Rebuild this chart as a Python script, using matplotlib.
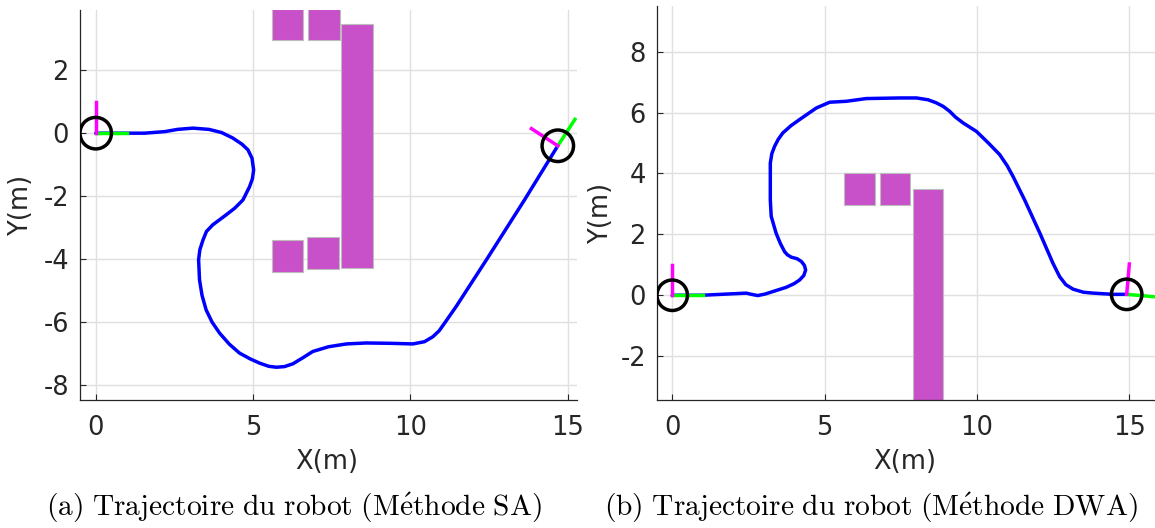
import numpy as np
import matplotlib
matplotlib.use('Agg')
import matplotlib.pyplot as plt
from matplotlib.patches import Rectangle, Circle

plt.rcParams['axes.unicode_minus'] = False
plt.rcParams['mathtext.fontset'] = 'cm'

# ---- SA trajectory (left) ----
saX = [0.0, 0.97, 1.55, 2.2, 2.6, 3.09, 3.6, 4.0, 4.35, 4.65, 4.84, 4.97, 5.02, 4.98, 4.89, 4.68, 4.42,
       4.15, 3.72, 3.52, 3.41, 3.31, 3.27, 3.30, 3.38, 3.51, 3.70, 3.94, 4.25, 4.57, 4.90, 5.21, 5.50,
       5.74, 6.00, 6.27, 6.60, 6.90, 7.40, 7.97, 8.60, 9.34, 10.08, 10.45, 10.72, 10.92, 11.09, 11.46,
       12.42, 13.63, 14.69]
saY = [0.0, 0.0, 0.0, 0.05, 0.12, 0.16, 0.12, 0.02, -0.15, -0.35, -0.53, -0.80, -1.17, -1.45, -1.70, -2.12, -2.38,
       -2.59, -2.91, -3.12, -3.39, -3.70, -4.02, -4.66, -5.15, -5.61, -6.00, -6.35, -6.70, -6.98, -7.16, -7.30, -7.40,
       -7.43, -7.41, -7.32, -7.12, -6.93, -6.78, -6.69, -6.66, -6.67, -6.69, -6.62, -6.46, -6.27, -6.03, -5.50,
       -4.02, -2.12, -0.40]

# ---- DWA trajectory (right) ----
dwaX = [0.0, 0.98, 2.43, 2.60, 2.81, 3.05, 3.30, 3.74, 4.00, 4.18, 4.32, 4.38, 4.34, 4.24, 4.10, 3.91, 3.78,
        3.69, 3.55, 3.41, 3.25, 3.22, 3.22, 3.27, 3.36, 3.48, 3.63, 3.90, 4.18, 4.73, 5.17, 5.71, 6.37, 7.47,
        8.02, 8.40, 8.67, 8.90, 9.11, 9.30, 9.55, 9.99, 10.40, 10.75, 11.00, 11.19, 11.57, 12.07, 12.50, 12.72,
        12.92, 13.16, 13.50, 13.82, 14.48, 14.92]
dwaY = [0.0, 0.0, 0.07, 0.03, -0.01, 0.04, 0.12, 0.26, 0.38, 0.50, 0.65, 0.83, 0.98, 1.11, 1.20, 1.25, 1.33,
        1.43, 1.70, 2.04, 2.59, 3.13, 4.34, 4.65, 4.89, 5.12, 5.33, 5.57, 5.77, 6.15, 6.34, 6.37, 6.46, 6.48,
        6.48, 6.42, 6.32, 6.20, 6.04, 5.85, 5.66, 5.38, 4.98, 4.62, 4.25, 3.90, 3.13, 2.04, 1.05, 0.61,
        0.35, 0.20, 0.10, 0.07, 0.03, 0.03]

# obstacles (x, y, w, h)
saObs = [(5.6, 2.95, 1.0, 1.0), (6.75, 2.95, 1.0, 1.0), (7.8, -4.28, 1.0, 7.73),
         (5.6, -4.4, 1.0, 1.0), (6.72, -4.3, 1.0, 1.0)]
dwaObs = [(5.65, 2.98, 1.0, 1.03), (6.82, 2.98, 1.0, 1.03), (7.9, -5.0, 1.0, 8.5)]

# robot poses (x, y, heading deg)
saPoses = [(0.0, 0.0, 0.0), (14.69, -0.40, 57.0)]
dwaPoses = [(0.0, 0.0, 0.0), (14.92, 0.03, -5.0)]

saXTicks = [0, 5, 10, 15]; saYTicks = [-8, -6, -4, -2, 0, 2]
dwaXTicks = [0, 5, 10, 15]; dwaYTicks = [-2, 0, 2, 4, 6, 8]

TXT = '#262626'
FS = 18.5
W, H = 1155, 528


def drawPanel(ax, xs, ys, obs, poses, xlim, ylim, xticks, yticks):
    for (ox, oy, ow, oh) in obs:
        ax.add_patch(Rectangle((ox, oy), ow, oh, facecolor='#c850c8', edgecolor='#bdbdbd', lw=0.8, zorder=2))
    ax.plot(xs, ys, color='#0000ff', lw=2.5, solid_joinstyle='round', solid_capstyle='round', zorder=3)
    for (px, py, th) in poses:
        t = np.deg2rad(th)
        ax.plot([px, px + np.cos(t)], [py, py + np.sin(t)], color='#00ff00', lw=2.5, zorder=4)
        ax.plot([px, px - np.sin(t)], [py, py + np.cos(t)], color='#ff00ff', lw=2.5, zorder=4)
        ax.add_patch(Circle((px, py), 0.5, fill=False, edgecolor='black', lw=2.5, zorder=5))
    ax.set_xlim(*xlim); ax.set_ylim(*ylim)
    ax.set_xticks(xticks); ax.set_yticks(yticks)
    ax.grid(True, color='#e0e0e0', lw=1.0)
    ax.set_axisbelow(True)
    for s in ['top', 'right']:
        ax.spines[s].set_visible(False)
    for s in ['left', 'bottom']:
        ax.spines[s].set_color(TXT); ax.spines[s].set_linewidth(0.9)
    ax.tick_params(direction='in', length=4, width=0.8, colors=TXT, labelsize=FS, pad=8)
    ax.tick_params(axis='x', pad=11)


fig = plt.figure(figsize=(W / 100, H / 100), dpi=100)

ax1 = fig.add_axes([80 / W, (H - 400) / H, 497 / W, 390 / H])
drawPanel(ax1, saX, saY, saObs, saPoses, (-0.5, 15.3), (-8.47, 3.91), saXTicks, saYTicks)
ax1.set_xlabel('X(m)', fontsize=FS, color=TXT)
ax1.set_ylabel('Y(m)', fontsize=FS, color=TXT)
ax1.xaxis.set_label_coords((327 - 80) / 497, (400 - 462) / 390)
ax1.yaxis.set_label_coords((21 - 80) / 497, 0.5)
ax1.xaxis.label.set_va('center'); ax1.yaxis.label.set_va('center')

ax2 = fig.add_axes([657 / W, (H - 400) / H, 498 / W, 394 / H])
drawPanel(ax2, dwaX, dwaY, dwaObs, dwaPoses, (-0.5, 15.85), (-3.44, 9.5), dwaXTicks, dwaYTicks)
ax2.set_xlabel('X(m)', fontsize=FS, color=TXT)
ax2.set_ylabel('Y(m)', fontsize=FS, color=TXT)
ax2.xaxis.set_label_coords((905 - 657) / 498, (400 - 462) / 394)
ax2.yaxis.set_label_coords((601 - 657) / 498, (400 - 213) / 394)
ax2.xaxis.label.set_va('center'); ax2.yaxis.label.set_va('center')

fig.text(294 / W, 1 - 508 / H, r'$\mathrm{(a)\ Trajectoire\ du\ robot\ (M\acute{e}thode\ SA)}$',
         fontsize=21.2, ha='center', va='center', color='black')
fig.text(871 / W, 1 - 508 / H, r'$\mathrm{(b)\ Trajectoire\ du\ robot\ (M\acute{e}thode\ DWA)}$',
         fontsize=21.2, ha='center', va='center', color='black')

fig.savefig('out.png', dpi=100)
